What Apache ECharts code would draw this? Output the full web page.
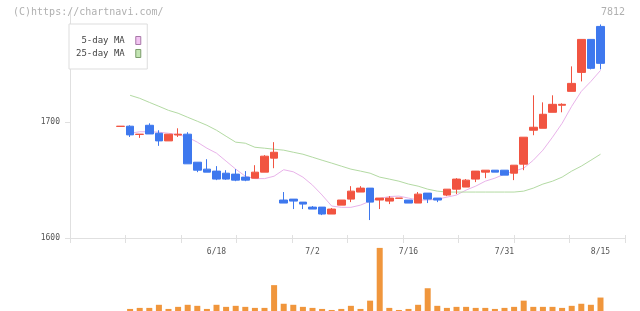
<!DOCTYPE html>
<html>
<head>
<meta charset="utf-8">
<script src="https://cdn.jsdelivr.net/npm/echarts@6/dist/echarts.min.js"></script>
<style>
html,body{margin:0;padding:0;background:#fff;}
#c{width:640px;height:311px;}
</style>
</head>
<body>
<div id="c"></div>
<script>
const dates = ['6/4','6/5','6/6','6/9','6/10','6/11','6/12','6/13','6/16','6/17','6/18','6/19','6/20','6/23','6/24','6/25','6/26','6/27','6/30','7/1','7/2','7/3','7/4','7/7','7/8','7/9','7/10','7/11','7/14','7/15','7/16','7/17','7/18','7/22','7/23','7/24','7/25','7/28','7/29','7/30','7/31','8/1','8/4','8/5','8/6','8/7','8/8','8/12','8/13','8/14','8/15'];
const tickLabels = ['6/18','7/2','7/16','7/31','8/15'];
const priceTicks = [1600, 1700];

const open  = [1696.4,1696.6,1689.5,1697.4,1690.5,1683.9,1689.0,1689.7,1665.5,1659.5,1657.8,1656.0,1655.2,1652.6,1651.7,1656.9,1669.0,1632.8,1633.6,1631.0,1626.7,1626.7,1620.7,1628.4,1633.6,1639.7,1643.1,1632.8,1631.9,1634.3,1632.8,1630.2,1638.8,1634.5,1637.1,1642.2,1644.0,1650.9,1656.9,1658.6,1658.6,1656.0,1663.8,1693.1,1694.8,1708.6,1714.7,1726.7,1743.1,1771.6,1782.8];
const close = [1696.6,1689.1,1689.7,1689.9,1683.9,1689.7,1689.7,1664.1,1658.6,1656.9,1650.9,1650.9,1650.0,1650.0,1656.9,1670.7,1674.1,1630.2,1631.9,1629.3,1625.0,1620.7,1625.0,1632.8,1640.5,1643.1,1631.0,1634.5,1634.5,1634.5,1630.2,1637.9,1633.6,1632.8,1642.2,1650.9,1650.0,1657.8,1658.6,1656.9,1654.3,1662.9,1687.1,1695.7,1706.9,1715.5,1715.5,1733.6,1771.6,1746.6,1750.9];
const low   = [1696.4,1687.3,1686.5,1689.9,1679.6,1683.9,1687.3,1664.1,1656.9,1656.9,1650.0,1650.3,1649.1,1649.1,1651.7,1656.9,1660.3,1630.2,1625.0,1625.0,1625.0,1619.8,1620.7,1628.4,1631.0,1639.7,1615.5,1625.0,1629.3,1634.3,1630.2,1630.2,1630.2,1631.0,1636.2,1637.9,1644.0,1648.3,1651.7,1656.9,1654.3,1650.0,1658.6,1688.8,1694.8,1708.6,1708.6,1726.7,1735.3,1745.7,1745.7];
const high  = [1696.6,1697.4,1689.7,1699.1,1693.1,1689.7,1694.8,1691.4,1665.5,1668.1,1662.1,1658.6,1659.5,1657.8,1662.9,1671.6,1682.8,1639.7,1633.6,1631.0,1627.6,1626.7,1625.9,1632.8,1644.8,1644.8,1643.1,1634.5,1636.2,1634.5,1632.8,1639.7,1638.8,1634.5,1642.2,1651.7,1650.9,1657.8,1658.6,1658.6,1658.6,1662.9,1687.1,1723.3,1717.2,1723.3,1716.4,1748.3,1771.6,1771.6,1784.5];
const volume = [0,600,900,900,1800,600,1200,1800,1500,600,1800,1200,1500,1200,900,900,7500,2100,1800,1200,900,600,300,600,1500,600,3000,18300,900,300,600,1800,6600,1500,900,1200,1200,900,900,600,900,1200,3000,1200,1200,1200,900,1500,2100,1800,3900];
const ma5  = [null,1690.5,1691.8,1691.8,1691.4,1690.5,1689.2,1687.1,1682.8,1677.6,1673.3,1666.4,1659.5,1653.4,1651.3,1651.3,1653.4,1659.0,1657.2,1652.6,1645.7,1637.1,1627.6,1626.5,1626.5,1628.4,1631.9,1634.2,1635.8,1636.2,1634.5,1632.8,1632.8,1633.6,1635.3,1637.1,1641.4,1644.8,1649.1,1651.7,1655.2,1657.8,1660.3,1667.2,1675.9,1687.1,1699.1,1713.8,1726.7,1735.3,1744.8];
const ma25 = [null,1723.3,1720.7,1717.2,1713.8,1710.3,1707.8,1704.3,1700.9,1697.4,1693.1,1687.9,1682.8,1681.9,1678.4,1677.6,1676.7,1675.9,1674.1,1672.4,1669.8,1667.2,1664.7,1662.1,1659.5,1657.8,1656.0,1652.6,1650.9,1649.1,1646.6,1644.8,1642.2,1640.5,1639.7,1639.7,1639.7,1639.7,1639.7,1639.7,1639.7,1639.7,1640.5,1643.1,1646.6,1649.1,1652.6,1657.8,1662.1,1667.2,1672.4];

const ohlc = dates.map((d, i) => [open[i], close[i], low[i], high[i]]);

const MONO = "'DejaVu Sans Mono', monospace";
const AX = '#e0e0e0';
const YMIN = 1600, YMAX = 1797;

const chart = echarts.init(document.getElementById('c'), null, {renderer: 'canvas'});
chart.setOption({
  animation: false,
  backgroundColor: '#fff',
  title: [
    {text: '(C)https://chartnavi.com/', left: 13, top: 7, padding: 0,
     textStyle: {fontSize: 10, fontWeight: 'normal', color: '#b0b0b0', fontFamily: MONO}},
    {text: '7812', right: 15, top: 7, padding: 0,
     textStyle: {fontSize: 10, fontWeight: 'normal', color: '#b0b0b0', fontFamily: MONO}}
  ],
  legend: {
    orient: 'vertical', left: 69, top: 24, align: 'right',
    icon: 'rect', itemWidth: 5, itemHeight: 8, itemGap: 4,
    padding: [12, 6, 11, 7],
    borderColor: '#dddddd', borderWidth: 1, backgroundColor: '#fff',
    selectedMode: false,
    formatter: n => n.padStart(9, ' '),
    textStyle: {fontFamily: MONO, fontSize: 9, color: '#444', padding: [0, 6, 0, 0]},
    data: [
      {name: '5-day MA', itemStyle: {color: '#f2c4f2', borderColor: '#a878a8', borderWidth: 1}},
      {name: '25-day MA', itemStyle: {color: '#c2e4b2', borderColor: '#7c9c6c', borderWidth: 1}}
    ]
  },
  grid: [
    {left: 70, right: 15, top: 10, bottom: 73},
    {left: 115.7, width: 489.6, top: 10, bottom: 73},
    {left: 115.7, width: 489.6, top: 241, height: 70}
  ],
  xAxis: [
    {gridIndex: 0, type: 'value', position: 'bottom', min: 0, max: 10, interval: 1,
     axisLine: {show: true, lineStyle: {color: AX}},
     axisTick: {show: true, length: 5, lineStyle: {color: AX}},
     axisLabel: {show: false}, splitLine: {show: false}},
    {gridIndex: 0, type: 'value', position: 'bottom', min: 0, max: 10, interval: 1,
     axisLine: {show: false},
     axisTick: {show: true, inside: true, length: 3, lineStyle: {color: AX}},
     axisLabel: {show: false}, splitLine: {show: false}},
    {gridIndex: 1, type: 'category', data: dates, boundaryGap: true,
     axisLine: {show: false}, axisTick: {show: false}, splitLine: {show: false},
     axisLabel: {interval: (i, v) => tickLabels.includes(v), margin: 10, fontSize: 8,
                 fontFamily: MONO, color: '#555', hideOverlap: false}},
    {gridIndex: 2, type: 'category', data: dates, boundaryGap: true, show: false}
  ],
  yAxis: [
    {gridIndex: 0, type: 'value', min: YMIN, max: YMAX, interval: 100,
     axisLine: {show: true, lineStyle: {color: AX}},
     axisTick: {show: true, length: 5, lineStyle: {color: AX}, customValues: priceTicks},
     axisLabel: {margin: 10, fontSize: 8, fontFamily: MONO, color: '#555',
                 customValues: priceTicks, formatter: v => String(v)},
     splitLine: {show: false}},
    {gridIndex: 0, type: 'value', min: YMIN, max: YMAX, interval: 100,
     axisLine: {show: false},
     axisTick: {show: true, inside: true, length: 4, lineStyle: {color: AX}, customValues: priceTicks},
     axisLabel: {show: false}, splitLine: {show: false}},
    {gridIndex: 1, type: 'value', min: YMIN, max: YMAX, show: false, splitLine: {show: false}},
    {gridIndex: 2, type: 'value', min: 0, max: 20300, show: false, splitLine: {show: false}}
  ],
  series: [
    {name: '5-day MA', type: 'line', xAxisIndex: 2, yAxisIndex: 2, data: ma5,
     showSymbol: false, symbol: 'none', z: 1,
     itemStyle: {color: '#f2c4f2'}, lineStyle: {width: 1, color: '#e9b3ea'}},
    {name: '25-day MA', type: 'line', xAxisIndex: 2, yAxisIndex: 2, data: ma25,
     showSymbol: false, symbol: 'none', z: 1,
     itemStyle: {color: '#c2e4b2'}, lineStyle: {width: 1, color: '#b3daa3'}},
    {name: 'price', type: 'candlestick', xAxisIndex: 2, yAxisIndex: 2, data: ohlc,
     barWidth: 8, z: 3,
     itemStyle: {color: '#f15441', color0: '#3e78ee', borderColor: '#f15441',
                 borderColor0: '#3e78ee', borderWidth: 1}},
    {name: 'volume', type: 'bar', xAxisIndex: 3, yAxisIndex: 3, data: volume,
     barWidth: 6, itemStyle: {color: '#f0963c'}}
  ]
});
</script>
</body>
</html>
